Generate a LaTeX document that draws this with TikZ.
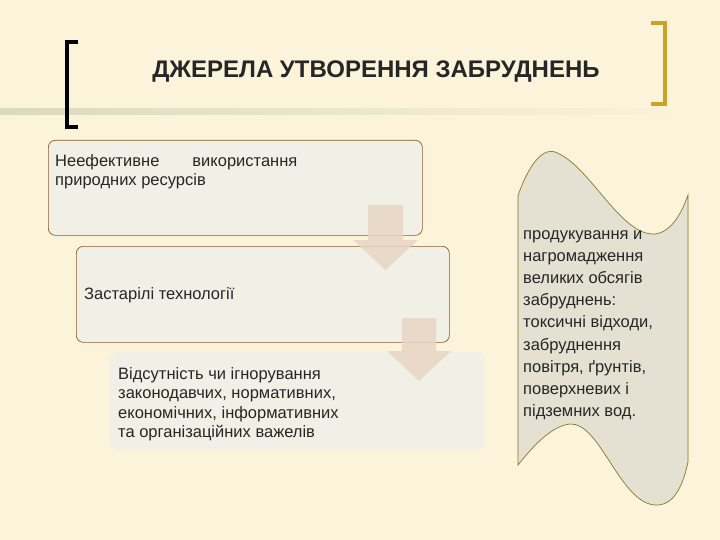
\documentclass[tikz,border=0pt]{standalone}
\usepackage{fontspec}
\setmainfont{Liberation Sans}
\begin{document}
\begin{tikzpicture}[x=1pt,y=-1pt,
  boxa/.style={draw=brown!70!black,line width=0.7pt,fill=boxfill,rounded corners=7pt},
  boxb/.style={fill=boxfill,rounded corners=7pt},
  txt/.style={anchor=west,align=left,font=\fontsize{16.5}{19.5}\selectfont,text=black!85,inner sep=0pt},
  arr/.style={fill=arrc,opacity=0.85}]
\definecolor{bg}{HTML}{FBF3DA}
\definecolor{boxfill}{HTML}{F1F0E6}
\definecolor{arrc}{HTML}{E8D5C3}
\definecolor{gold}{HTML}{C9A227}
\definecolor{wavef}{HTML}{E4E1D3}
\definecolor{wavel}{HTML}{8C7625}
\definecolor{linec}{HTML}{DADABF}
\useasboundingbox (0,0) rectangle (720,540);
\fill[bg] (0,0) rectangle (720,540);
% decorative line
\shade[left color=linec,right color=bg] (0,109) rectangle (685,115);
% brackets
\draw[line width=4pt,black] (78,42) -- (67,42) -- (67,127) -- (78,127);
\draw[line width=4pt,gold] (651,23) -- (665,23) -- (665,104) -- (651,104);
\node[font=\bfseries\fontsize{24}{28}\selectfont,text=black!85] (title) at (376,72) {ДЖЕРЕЛА УТВОРЕННЯ ЗАБРУДНЕНЬ};
% boxes
\node[boxa,minimum width=374pt,minimum height=95pt,anchor=north west] (b1) at (48,140) {};
\node[boxa,minimum width=373pt,minimum height=96pt,anchor=north west] (b2) at (76,246) {};
\node[boxb,minimum width=374pt,minimum height=98pt,anchor=north west] (b3) at (110,352) {};
\node[txt,anchor=north west] (t1) at (55,154) {Неефективне\hspace{2em}використання\\природних ресурсів};
\node[txt] (t2) at (84,295) {Застарілі технології};
\node[txt,anchor=north west] (t3) at (118,367) {Відсутність чи ігнорування\\законодавчих, нормативних,\\економічних, інформативних\\та організаційних важелів};
% arrows
\fill[arr] (368,205) -- (403,205) -- (403,240) -- (418,240) -- (385.5,270) -- (353,240) -- (368,240) -- cycle;
\fill[arr] (402,318) -- (436,318) -- (436,351) -- (451,351) -- (419,381) -- (387,351) -- (402,351) -- cycle;
% wave
\draw[wavel,line width=0.7pt,fill=wavef] (518,196) .. controls (530,160) and (545,148) .. (555,152)
  .. controls (590,165) and (620,236) .. (655,234) .. controls (672,232) and (682,212) .. (688,195)
  -- (688,462) .. controls (682,490) and (672,506) .. (655,505)
  .. controls (620,503) and (600,422) .. (570,424) .. controls (550,426) and (530,450) .. (518,465) -- cycle;
\node[txt,anchor=north west,font=\fontsize{16.5}{22.2}\selectfont] (t4) at (523,230) {продукування и\\нагромадження\\великих обсягів\\забруднень:\\токсичні відходи,\\забруднення\\повітря, ґрунтів,\\поверхневих і\\підземних вод.};
\end{tikzpicture}
\end{document}
